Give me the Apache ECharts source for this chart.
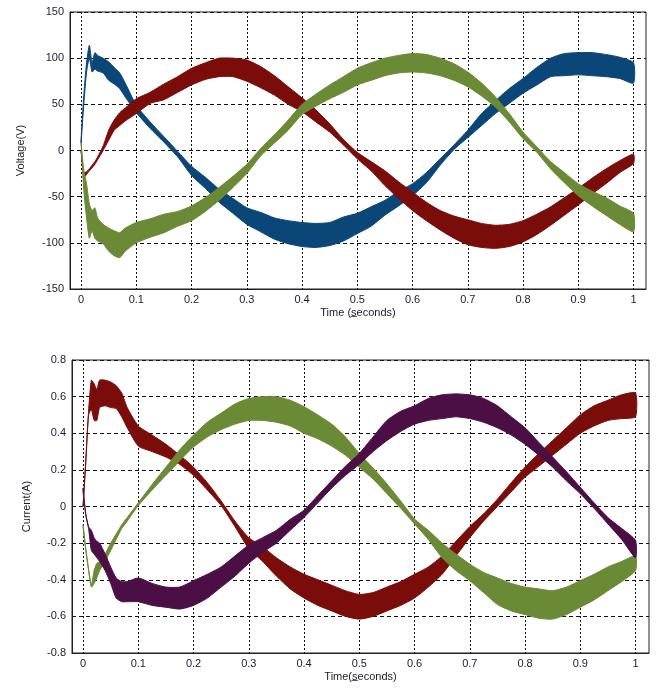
<!DOCTYPE html>
<html>
<head>
<meta charset="utf-8">
<script src="https://cdn.jsdelivr.net/npm/echarts@6/dist/echarts.min.js"></script>
<style>
  html, body { margin: 0; padding: 0; background: #fff; }
  #chart { width: 660px; height: 689px; }
</style>
</head>
<body>
<div id="chart"></div>
<script>
// sample times (s): dense in the start-up transient, then every 0.025 s
var time = [0, 0.005, 0.01, 0.015, 0.02, 0.025, 0.03, 0.04, 0.05, 0.06, 0.07, 0.08,
  0.1, 0.125, 0.15, 0.175, 0.2, 0.225, 0.25, 0.275, 0.3, 0.325,
  0.35, 0.375, 0.4, 0.425, 0.45, 0.475, 0.5, 0.525, 0.55, 0.575,
  0.6, 0.625, 0.65, 0.675, 0.7, 0.725, 0.75, 0.775, 0.8, 0.825,
  0.85, 0.875, 0.9, 0.925, 0.95, 0.975, 1];
var timeTicks = [0, 0.1, 0.2, 0.3, 0.4, 0.5, 0.6, 0.7, 0.8, 0.9, 1];

// voltage envelopes (V): upper / lower edge of each ripple band
var vBlueUp = [12, 60, 95, 114, 95, 106, 103, 100, 96, 90, 84, 73,
  49, 31, 15, -1, -17, -29, -42, -52, -62, -67,
  -73, -76, -78, -79, -78, -72, -68, -61, -54, -44,
  -36, -24, -9, 6, 22, 40, 54, 67, 78, 90,
  100, 105, 106, 106, 104, 101, 95];
var vBlueLo = [8, 50, 85, 100, 85, 88, 86, 84, 76, 72, 67, 58,
  41, 24, 9, -7, -27, -41, -56, -68, -80, -88,
  -96, -101, -104, -105, -103, -98, -90, -82, -70, -60,
  -49, -35, -16, 1, 14, 27, 40, 51, 62, 71,
  80, 81, 82, 81, 80, 78, 73];
var vRedUp = [0, -24, -23, -20, -16, -12, -7, 5, 22, 33, 41, 46,
  56, 63, 72, 80, 89, 95, 100, 100, 98, 91,
  81, 69, 57, 44, 29, 12, -2, -12, -22, -34,
  -45, -56, -65, -71, -75, -79, -81, -80, -76, -69,
  -61, -51, -41, -30, -20, -11, -4];
var vRedLo = [0, -29, -26, -22, -19, -15, -10, 0, 11, 22, 27, 32,
  40, 51, 55, 63, 71, 77, 80, 80, 75, 68,
  60, 50, 42, 31, 20, 6, -9, -22, -38, -52,
  -65, -76, -86, -95, -102, -105, -106, -104, -99, -91,
  -81, -70, -59, -47, -36, -24, -14];
var vGreenUp = [9, -22, -36, -58, -65, -62, -73, -80, -84, -87, -89, -84,
  -78, -74, -69, -66, -60, -51, -40, -28, -15, 2,
  17, 33, 50, 61, 71, 80, 89, 95, 100, 103,
  105, 104, 100, 94, 85, 73, 58, 40, 20, 4,
  -12, -24, -36, -44, -51, -60, -68];
var vGreenLo = [9, -43, -73, -95, -87, -95, -98, -101, -109, -114, -116, -109,
  -100, -94, -89, -82, -76, -66, -54, -40, -25, -6,
  8, 22, 39, 48, 56, 63, 71, 76, 81, 84,
  85, 84, 81, 76, 69, 59, 47, 31, 13, -2,
  -20, -35, -49, -60, -70, -80, -88];

// current envelopes (A)
var iRedUp = [0, 0.26, 0.52, 0.69, 0.67, 0.64, 0.69, 0.69, 0.68, 0.66, 0.62, 0.54,
  0.44, 0.39, 0.34, 0.28, 0.215, 0.13, 0.03, -0.08, -0.17, -0.22,
  -0.28, -0.33, -0.37, -0.4, -0.43, -0.46, -0.48, -0.47, -0.44, -0.41,
  -0.37, -0.33, -0.27, -0.19, -0.11, -0.04, 0.04, 0.13, 0.215, 0.29,
  0.36, 0.43, 0.5, 0.55, 0.58, 0.61, 0.62];
var iRedLo = [0, 0.24, 0.5, 0.53, 0.47, 0.47, 0.54, 0.55, 0.54, 0.535, 0.49, 0.43,
  0.33, 0.3, 0.27, 0.23, 0.17, 0.09, 0.005, -0.11, -0.23, -0.3,
  -0.38, -0.45, -0.5, -0.54, -0.57, -0.6, -0.615, -0.6, -0.57, -0.54,
  -0.5, -0.44, -0.37, -0.27, -0.17, -0.08, 0, 0.08, 0.16, 0.22,
  0.28, 0.34, 0.4, 0.44, 0.47, 0.48, 0.49];
var iGreenUp = [-0.1, -0.23, -0.34, -0.43, -0.35, -0.31, -0.3, -0.26, -0.2, -0.15, -0.1, -0.06,
  0.02, 0.12, 0.215, 0.31, 0.39, 0.46, 0.51, 0.56, 0.59, 0.6,
  0.6, 0.58, 0.545, 0.5, 0.45, 0.38, 0.29, 0.21, 0.124, 0.03,
  -0.068, -0.13, -0.2, -0.26, -0.315, -0.36, -0.39, -0.42, -0.44, -0.45,
  -0.46, -0.44, -0.405, -0.37, -0.33, -0.3, -0.27];
var iGreenLo = [-0.11, -0.24, -0.35, -0.44, -0.42, -0.39, -0.35, -0.3, -0.24, -0.18, -0.12, -0.08,
  0.005, 0.09, 0.17, 0.25, 0.325, 0.38, 0.42, 0.45, 0.47, 0.47,
  0.46, 0.44, 0.4, 0.37, 0.33, 0.28, 0.215, 0.15, 0.07, -0.01,
  -0.095, -0.18, -0.28, -0.35, -0.405, -0.47, -0.535, -0.57, -0.59, -0.61,
  -0.615, -0.59, -0.55, -0.51, -0.46, -0.41, -0.35];
var iPurpleUp = [0.1, -0.04, -0.11, -0.13, -0.17, -0.19, -0.2, -0.26, -0.33, -0.39, -0.41, -0.41,
  -0.39, -0.42, -0.44, -0.44, -0.405, -0.37, -0.33, -0.27, -0.21, -0.17,
  -0.13, -0.07, -0.02, 0.06, 0.14, 0.22, 0.29, 0.38, 0.47, 0.52,
  0.55, 0.59, 0.61, 0.615, 0.61, 0.59, 0.55, 0.49, 0.43, 0.35,
  0.27, 0.19, 0.105, 0.02, -0.06, -0.12, -0.185];
var iPurpleLo = [0.08, -0.05, -0.12, -0.24, -0.26, -0.28, -0.3, -0.35, -0.42, -0.5, -0.52, -0.52,
  -0.52, -0.54, -0.55, -0.56, -0.54, -0.5, -0.44, -0.38, -0.31, -0.25,
  -0.2, -0.13, -0.06, 0.02, 0.1, 0.17, 0.23, 0.3, 0.36, 0.41,
  0.45, 0.47, 0.48, 0.49, 0.48, 0.46, 0.43, 0.39, 0.34, 0.28,
  0.215, 0.14, 0.07, -0.01, -0.095, -0.18, -0.28];

var colors = {
  blue: '#0b4678',
  red: '#7a0d0a',
  green: '#6b8a36',
  purple: '#4b0e45'
};

var textColor = '#1c1c2c';
var font = '"Liberation Sans", Arial, sans-serif';

// ripple band: one filled polygon between the upper and lower envelope
function band(id, axis, upper, lower, color) {
  return {
    type: 'custom',
    name: id,
    xAxisIndex: axis,
    yAxisIndex: axis,
    silent: true,
    clip: true,
    data: time.map(function (t, i) { return [t, upper[i], lower[i]]; }),
    encode: { x: 0, y: [1, 2] },
    renderItem: function (params, api) {
      if (params.dataIndex !== 0) return null;
      var pts = [];
      for (var i = 0; i < time.length; i++) pts.push(api.coord([time[i], upper[i]]));
      for (var j = time.length - 1; j >= 0; j--) pts.push(api.coord([time[j], lower[j]]));
      return {
        type: 'polygon',
        shape: { points: pts, smooth: 0.2 },
        style: { fill: color, stroke: color, lineWidth: 1 }
      };
    }
  };
}

function xAxis(idx, max, name) {
  return {
    type: 'value',
    gridIndex: idx,
    min: -0.02,
    max: max,
    name: name,
    nameLocation: 'middle',
    nameGap: 18,
    nameTextStyle: { color: textColor, fontSize: 11, fontFamily: font },
    axisLine: { show: true, onZero: false, lineStyle: { color: '#222' } },
    axisTick: { show: false, customValues: timeTicks },
    axisLabel: {
      customValues: timeTicks,
      color: textColor, fontSize: 11, fontFamily: font, margin: 5,
      formatter: function (v) { return String(Math.round(v * 10) / 10); }
    },
    splitLine: { show: true, lineStyle: { color: '#111', type: [2, 2], width: 1 } }
  };
}

function yAxis(idx, min, max, step, name, gap, fmt) {
  return {
    type: 'value',
    gridIndex: idx,
    min: min,
    max: max,
    interval: step,
    name: name,
    nameLocation: 'middle',
    nameGap: gap,
    nameTextStyle: { color: textColor, fontSize: 11, fontFamily: font },
    axisLine: { show: true, onZero: false, lineStyle: { color: '#222' } },
    axisTick: { show: false },
    axisLabel: { color: textColor, fontSize: 11, fontFamily: font, margin: 6, formatter: fmt },
    splitLine: { show: true, lineStyle: { color: '#111', type: [4, 3], width: 1 } }
  };
}

var chart = echarts.init(document.getElementById('chart'), null, { renderer: 'canvas' });

var series = [
  band('va', 0, vBlueUp, vBlueLo, colors.blue),
  band('vb', 0, vRedUp, vRedLo, colors.red),
  band('vc', 0, vGreenUp, vGreenLo, colors.green),
  band('ia', 1, iRedUp, iRedLo, colors.red),
  band('ib', 1, iGreenUp, iGreenLo, colors.green),
  band('ic', 1, iPurpleUp, iPurpleLo, colors.purple)
];

chart.setOption({
  animation: false,
  backgroundColor: '#fff',
  grid: [
    { left: 70, top: 12, width: 576, height: 277, show: true, borderColor: '#222', borderWidth: 1 },
    { left: 72, top: 360, width: 577, height: 293, show: true, borderColor: '#222', borderWidth: 1 }
  ],
  xAxis: [
    xAxis(0, 1.0226, 'Time (s\u0332econds)'),
    xAxis(1, 1.0244, 'Time(s\u0332econds)')
  ],
  yAxis: [
    yAxis(0, -150, 150, 50, 'Voltage(V)', 44, function (v) { return String(v); }),
    yAxis(1, -0.8, 0.8, 0.2, 'Current(A)', 40, function (v) {
      return Math.abs(v) < 1e-9 ? '0' : v.toFixed(1);
    })
  ],
  series: series
});
</script>
</body>
</html>
